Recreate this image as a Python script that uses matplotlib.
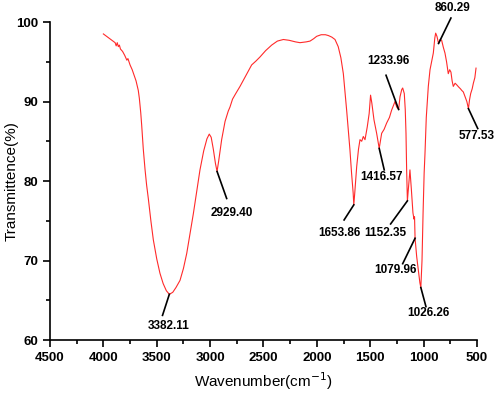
import numpy as np
import matplotlib
matplotlib.use("Agg")
import matplotlib.pyplot as plt
from matplotlib.ticker import MultipleLocator

plt.rcParams['font.family'] = ['Liberation Sans', 'DejaVu Sans']

# FTIR spectrum (wavenumber, transmittance %)
wavenumber = [
    4000, 3960, 3920, 3890, 3880, 3870, 3860, 3850, 3840, 3820, 3800, 3780,
    3770, 3750, 3730, 3710, 3694, 3673, 3663, 3650, 3641, 3626, 3610, 3595,
    3579, 3555, 3532, 3500, 3470, 3440, 3410, 3382, 3350, 3320, 3282, 3250,
    3219, 3190, 3157, 3125, 3095, 3060, 3030, 3008, 2990, 2970, 2950, 2935,
    2920, 2892, 2860, 2830, 2814, 2790, 2760, 2720, 2680, 2640, 2611, 2570,
    2533, 2480, 2423, 2370, 2314, 2260, 2200, 2158, 2100, 2064, 2030, 2002,
    1960, 1920, 1893, 1860, 1830, 1800, 1775, 1752, 1735, 1721, 1705, 1690,
    1675, 1660, 1654, 1645, 1627, 1610, 1596, 1580, 1565, 1549, 1528, 1510,
    1497, 1485, 1465, 1440, 1416, 1393, 1370, 1346, 1320, 1300, 1268, 1252,
    1234, 1221, 1205, 1196, 1181, 1172, 1165, 1159, 1152, 1140, 1128, 1115,
    1100, 1090, 1085, 1080, 1065, 1050, 1035, 1026, 1015, 1005, 995, 987,
    975, 956, 940, 925, 909, 895, 887, 875, 860, 845, 831, 815,
    800, 785, 769, 756, 744, 733, 722, 705, 690, 670, 655, 643,
    628, 612, 595, 580, 570, 559, 545, 534, 520, 509,
]
transmittance = [
    98.5, 98.1, 97.7, 97.4, 97.0, 97.4, 96.9, 97.1, 96.6, 96.3, 95.8, 95.2,
    95.4, 94.6, 94.0, 93.2, 92.6, 91.4, 90.4, 88.6, 87.0, 84.0, 81.5, 79.5,
    77.8, 75.0, 72.6, 70.2, 68.4, 67.1, 66.2, 65.75, 66.0, 66.6, 67.5, 69.0,
    70.9, 73.2, 75.9, 78.7, 81.4, 83.8, 85.3, 85.9, 85.5, 84.0, 82.2, 81.2,
    82.5, 85.2, 87.5, 88.8, 89.3, 90.3, 91.0, 91.9, 92.9, 93.9, 94.6, 95.1,
    95.6, 96.4, 97.1, 97.6, 97.8, 97.7, 97.5, 97.4, 97.5, 97.6, 97.9, 98.2,
    98.4, 98.4, 98.3, 98.1, 97.8, 96.9, 95.5, 93.5, 91.0, 88.9, 86.3, 83.9,
    81.0, 78.5, 77.0, 78.5, 81.8, 84.0, 85.2, 85.0, 85.6, 85.2, 86.8, 88.5,
    90.8, 89.8, 87.7, 86.0, 84.1, 86.0, 86.5, 87.3, 88.0, 88.9, 90.0, 89.3,
    89.0, 90.6, 91.5, 91.7, 91.0, 89.0, 86.0, 81.4, 77.5, 79.5, 81.4, 79.0,
    76.0, 75.2, 75.5, 72.8, 70.5, 68.8, 67.2, 66.6, 70.0, 76.0, 81.0, 83.5,
    88.0, 91.9, 94.0, 95.0, 96.1, 98.0, 98.6, 98.2, 97.3, 97.8, 97.7, 96.8,
    96.1, 95.0, 93.5, 94.0, 93.7, 92.6, 91.9, 92.3, 92.1, 91.8, 91.6, 91.4,
    91.2, 90.6, 90.0, 89.1, 90.2, 91.0, 91.6, 92.3, 93.0, 94.2,
]

# peak labels: text, peak point, text position, leader line end
peak_labels = ['3382.11', '2929.40', '1653.86', '1152.35', '1079.96',
               '1026.26', '1416.57', '1233.96', '860.29', '577.53']
peak_xy = [(3382, 65.75), (2935, 81.2), (1654, 77.0), (1152, 77.5), (1080, 72.8),
           (1026, 66.6), (1416, 84.1), (1234, 89.0), (860, 97.3), (580, 89.1)]
text_xy = [(3390, 61.8), (2800, 76.0), (1793, 73.4), (1357, 73.4), (1263, 68.8),
           (959, 63.4), (1399, 80.5), (1334, 95.1), (725, 101.7), (500, 85.6)]
line_end = [(3446, 63.1), (2845, 77.8), (1745, 75.1), (1309, 74.6), (1196, 69.6),
            (978, 64.2), (1369, 81.4), (1352, 93.3), (744, 100.5), (493, 86.6)]

fig = plt.figure(figsize=(4.98, 3.98), dpi=100)
ax = fig.add_axes([0.1004, 0.1457, 0.8574, 0.799])

ax.plot(wavenumber, transmittance, color='#ff2a2a', linewidth=0.8)

for lab, p, t, e in zip(peak_labels, peak_xy, text_xy, line_end):
    ax.plot([p[0], e[0]], [p[1], e[1]], color='black', linewidth=1.2,
            clip_on=False)
    ax.text(t[0], t[1], lab, ha='center', va='center', fontsize=8.5,
            fontweight='bold', clip_on=False)

ax.set_xlim(4500, 500)
ax.set_ylim(60, 100)
ax.xaxis.set_major_locator(MultipleLocator(500))
ax.xaxis.set_minor_locator(MultipleLocator(250))
ax.yaxis.set_major_locator(MultipleLocator(10))
ax.yaxis.set_minor_locator(MultipleLocator(5))

for s in ['top', 'right']:
    ax.spines[s].set_visible(False)
for s in ['left', 'bottom']:
    ax.spines[s].set_linewidth(1.2)

ax.tick_params(which='major', direction='out', length=5, width=1.2,
               labelsize=9.5)
ax.tick_params(which='minor', direction='out', length=3, width=1.2)
for lbl in ax.get_xticklabels() + ax.get_yticklabels():
    lbl.set_fontweight('bold')

ax.set_xlabel('Wavenumber(cm$^{-1}$)', fontsize=11, labelpad=5)
ax.set_ylabel('Transmittence(%)', fontsize=11)
ax.yaxis.set_label_coords(-0.074, 0.5)

fig.savefig('out.png', dpi=100)
